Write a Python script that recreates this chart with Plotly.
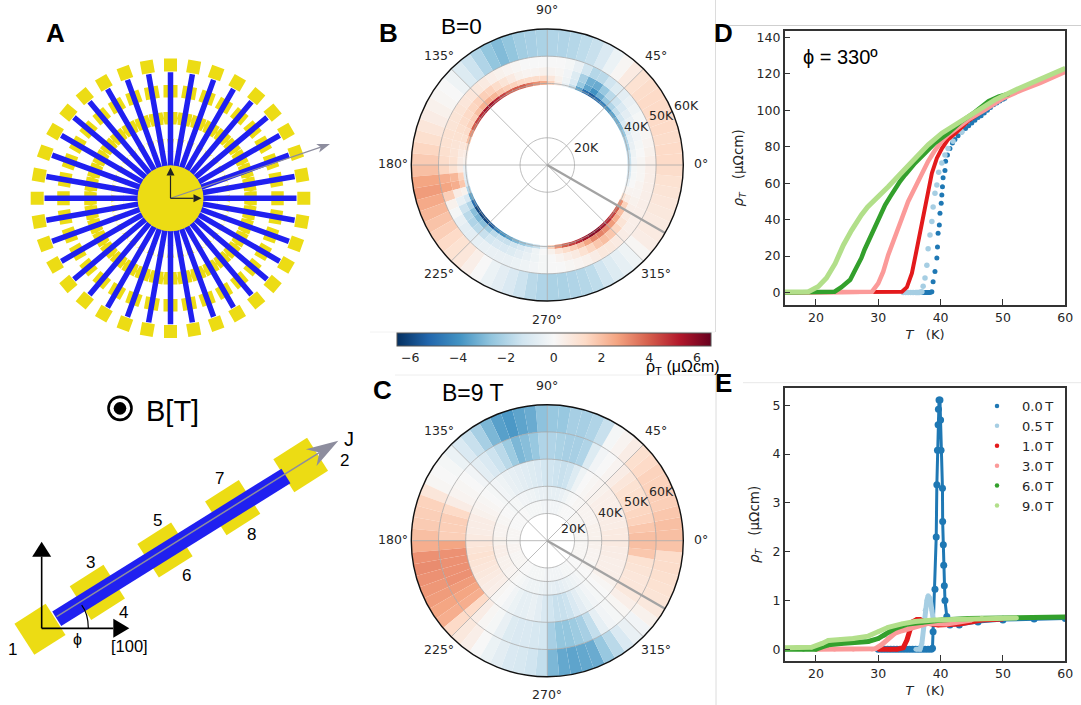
import math
import plotly.graph_objects as go

W, H = 1081, 705
BLUE, YEL, GREY = "#2020f0", "#ecdc14", "#8d8d9e"
SANS, DEJA = "Liberation Sans", "DejaVu Sans"

RDBU = ["#053061", "#2166ac", "#4393c3", "#92c5de", "#d1e5f0", "#f7f7f7",
        "#fddbc7", "#f4a582", "#d6604d", "#b2182b", "#67001f"]
CB_MIN, CB_MAX = -6.57, 6.57
CB_TICKS = [-6, -4, -2, 0, 2, 4, 6]
ANG_TICKS = [0, 45, 90, 135, 180, 225, 270, 315]
PHI = 330

# ---- Panel B (B=0): rho_T per 5 degree sector, one list per temperature band
B_EDGES = [39.5, 41, 43, 46, 50, 60]
B_RING = [-1.5,-1.5,-2,-2,-2.5,-3,-3.2,-3.5,-4,-4.5,-5,-5.5,-5,-3.5,-1.5,-.5,.5,1.5,2.5,3,3.5,4,4,4,
          4.5,5,5.5,5.5,5,4.5,4,3,2,1,.5,.3,-.5,-.8,-1,-2,-3.5,-5,-6,-6,-6,-5.5,-4.5,-4,
          -3.5,-3,-2.5,-2,-1.5,-.5,1.5,3,4,4.5,5,5.5,6,6,5.5,5,4.5,4,3,1,.2,-.5,-1,-1.2]
B_41 = [-.2,-.3,-.5,-.6,-.8,-1,-1.3,-1.6,-2,-2.5,-3.2,-4,-3.5,-2.5,-1,-.3,.3,.8,1.3,1.2,1.2,1.3,1.5,1.6,
        1.8,2.2,2.4,2.3,2,1.6,1.5,1.2,1,.8,.6,.5,.5,1.5,1.8,.3,-1,-2,-2.8,-3,-2.8,-2.4,-1.8,-1.5,
        -1.5,-1.3,-1,-.7,-.3,0,.3,.8,1.2,1.6,2,2.6,3.2,3.3,3.1,2.8,2.4,2,1.5,.5,.2,0,-.1,-.1]
B_43 = [.1,0,-.1,-.2,-.3,-.5,-.7,-1,-1.4,-1.8,-2.5,-3.3,-3.2,-2.2,-.9,-.2,.1,.2,.3,.2,.2,.3,.6,.9,
        1.2,1.5,1.6,1.5,1.4,1.3,1.2,1.1,1,.9,.9,1,1,2.2,2.4,.5,-.5,-1.4,-1.8,-2,-1.8,-1.5,-1.2,-1,
        -1,-.9,-.7,-.5,-.3,-.1,0,.2,.4,.6,1,1.4,1.8,2,1.8,1.4,.9,.6,.4,.3,.2,.2,.1,.1]
B_46 = [.4,.3,.2,.1,0,-.1,-.3,-.5,-.7,-.9,-1.3,-1.8,-1.9,-1.3,-.5,-.1,0,0,0,0,0,.1,.2,.3,
        .4,.6,.7,.8,.8,.9,.9,.9,1,1,1.1,1.2,1.4,2.4,2.6,1.6,.3,-.1,-.5,-.7,-.7,-.6,-.5,-.5,
        -.5,-.5,-.4,-.3,-.2,-.1,0,0,.1,.2,.3,.5,.7,.7,.6,.5,.4,.4,.4,.4,.4,.4,.4,.4]
B_50 = [1.3,1.3,1.2,1.3,1.3,1.3,1.3,1.2,1,.6,.1,-.4,-1,-1.5,-1.7,-1.9,-2,-2,-2.1,-2.2,-2.3,-2.6,-2.9,-2.6,
        -2,-1.4,-.9,-.3,0,.1,.3,.5,.8,1.1,1.4,1.7,2,2.6,2.8,2.5,2.2,1.9,1.6,1.3,1,.8,.4,0,
        -.4,-.7,-1,-1.4,-1.8,-2,-2.1,-2.1,-2,-1.9,-1.7,-1.3,-.9,-.6,-.3,.1,.5,.6,.6,.7,.8,.9,1,1.2]
B_BANDS = [B_RING, B_41, B_43, B_46, B_50]
B_RINGS = [20, 40, 50]

# ---- Panel C (B=9 T)
C_EDGES = [20, 25, 30, 40, 50, 60]
C_20 = [.1,.1,.1,.1,.1,.1,.1,.1,.1,0,0,0,0,-.1,-.2,-.2,-.2,-.2,-.2,-.2,-.1,-.1,-.1,-.1,
        -.1,0,0,0,0,0,0,0,.1,.1,.1,.1,.1,.2,.2,.2,.1,.1,.1,.1,.1,0,0,0,-.1,-.1,-.1,-.1,-.1,-.2,
        -.2,-.2,-.2,-.2,-.2,-.1,-.1,-.1,0,0,0,0,.1,.1,.1,.1,.1,.1]
C_25 = [.3,.3,.3,.3,.2,.2,.2,.2,.2,.1,.1,0,-.1,-.3,-.5,-.6,-.6,-.6,-.5,-.5,-.4,-.3,-.3,-.2,
        -.2,-.1,-.1,-.1,0,0,.1,.1,.2,.2,.2,.3,.3,.4,.4,.4,.3,.3,.3,.2,.2,.1,0,-.1,
        -.2,-.3,-.3,-.3,-.4,-.5,-.6,-.6,-.7,-.6,-.5,-.4,-.3,-.2,-.1,0,0,.1,.1,.2,.2,.2,.3,.3]
C_30 = [.6,.6,.5,.5,.5,.4,.4,.4,.3,.2,.1,0,-.3,-.9,-1.4,-1.5,-1.4,-1.3,-1.2,-1,-.9,-.8,-.7,-.6,
        -.5,-.3,-.2,-.1,0,.1,.2,.3,.5,.5,.5,.6,.8,.9,1,.9,.8,.7,.6,.5,.4,.1,0,-.2,
        -.4,-.6,-.6,-.5,-.7,-1,-1.3,-1.5,-1.5,-1.4,-1,-.7,-.4,-.2,-.1,0,.1,.3,.4,.4,.4,.5,.5,.6]
C_40 = [2,1.8,1.5,1.4,1.2,1.1,1,.8,.5,.2,0,-.2,-.9,-2,-2.2,-2.2,-2.1,-2,-2,-2.5,-2.8,-3,-2.4,-1.8,
        -1.4,-1,-.7,-.2,0,.1,.2,.5,1.3,1.6,1.6,1.6,2.6,3,3,3,3,2.8,2.6,2.4,1.3,.5,.1,-.1,
        -.5,-.9,-1,-1,-1.1,-1.2,-2.2,-2.6,-2.6,-2.4,-2.2,-1.6,-.6,-.2,-.1,.1,.4,.7,.8,.8,.9,1,1.8,2]
C_50 = [2,2,1.8,1.6,1.6,1.5,1.5,1.3,1.1,.5,.2,-.1,-1.5,-2,-2.2,-2.2,-2.5,-2.5,-2.7,-3.3,-3.5,-3.8,-3.6,-3,
        -2.2,-1.5,-1,-.4,-.1,0,.1,.8,1.5,1.6,1.7,2,2.4,3,3.1,3,2.9,2.8,2.6,2.4,1.3,.7,.4,0,
        -.4,-.7,-1,-1.1,-1.3,-1.6,-3,-3.4,-3.5,-3.4,-3.3,-2.5,-1.8,-1,-.5,-.2,.3,.7,.9,1,1.1,1.2,1.2,1.9]
C_BANDS = [C_20, C_25, C_30, C_40, C_50]
C_RINGS = [20, 25, 30, 40, 50]

# ---- Panels D and E
FIELDS = ["0.0\u2009T", "0.5\u2009T", "1.0\u2009T", "3.0\u2009T", "6.0\u2009T", "9.0\u2009T"]
COLORS = ["#1f78b4", "#a6cee3", "#e31a1c", "#fb9a99", "#33a02c", "#b2df8a"]

D_T0 = [36.4,36.7,37,37.2,37.4,37.6,37.8,38,38.2,38.4,38.6,38.8,39.1,39.4,39.5,39.6,39.8,39.9,40.1,40.2,40.3,40.4,40.7,40.8,41.1,41.5,
        41.9,42.3,42.8,43.4,44,44.5,45,45.5,46,46.5,47,47.5,48,48.5,49,49.5,50,50.3]
D_V0 = [0,0,0,0,0,0,0,0,0,.2,.5,6,11.5,19,25,32.5,37,43.5,49,53.5,58,63,67,72,75.5,79,
        82,84,86,88,90,91.5,93,94.5,96,97,98.5,100,101.5,103,104,105,106,106.5]
D_T1 = [34,34.4,34.8,35.2,35.6,36,36.2,36.4,36.6,36.8,37,37.2,37.5,37.8,38,38.3,38.6,38.8,39.1,39.4,39.7,40.2,40.7,41.2,42,43.4]
D_V1 = [0,0,0,0,0,0,0,0,.1,.3,.5,3.5,8,15,24,31.6,39,47,54.5,59,66,71,75.5,79,83,88]
D_T2 = [15,33.8,34.6,35.4,35.9,36.4,37,37.5,38,38.6,39.4,40.2,41.2,42.6,44.4,46,48,50]
D_V2 = [0,.5,3,10.6,19,28,39,48,57,65.5,73.7,79,84,88,94,98,102.5,106.5]
D_T3 = [15,29,30,30.8,31.6,32.7,33.8,34.8,35.9,37,38,39.1,40.2,41.2,42.6,44.5,47,50,53,56,60]
D_V3 = [0,.5,5,11.5,20.7,31.6,40.8,50,58,65.5,72,78,83,86.5,90,95,100,106.5,111,115,121]
D_T4 = [15,23,24.1,25.5,26.3,26.8,27.3,27.8,28.4,29.5,30.3,31.1,31.9,32.7,33.5,34.3,35.9,37.5,39.1,41.2,43.4,45.5,47.7,49.3,51]
D_V4 = [0,.5,3,7,12.4,15.5,19,23.5,28,37,42.5,48,52.5,57,61,64.5,71,76.4,82,87.4,94,99,105,107.5,109]
D_T5 = [15,18.8,20.4,21.7,23.1,24.4,25.7,26.5,27.3,28.3,29.5,30.5,31.6,33.8,35.9,38,40.2,42.3,44.4,46.6,48.7,51.9,55,60]
D_V5 = [.3,.5,3.3,8,16,26,34,38.7,42.6,47,50.8,54.5,58,66,73.7,81,87.4,92,96.5,101,105.7,111,115.7,123]
D_TS = [D_T0, D_T1, D_T2, D_T3, D_T4, D_T5]
D_VS = [D_V0, D_V1, D_V2, D_V3, D_V4, D_V5]
D_XTICKS = [20, 30, 40, 50, 60]
D_YTICKS = [0, 20, 40, 60, 80, 100, 120, 140]

E_T0 = [30,30.5,31,31.5,32,32.5,33,33.5,34,34.5,35,35.5,36,36.5,37,37.5,38,38.5,38.7,38.8,39.1,39.3,39.4,39.5,39.6,39.65,39.75,39.9,40,40.07,40.3,40.33,40.44,40.5,40.6,40.7,41,41.5,43,46,50,55,60]
E_V0 = [0,0,0,0,0,0,0,0,0,0,0,0,0,0,0,0,0,0,.02,.36,1.23,2.3,3.37,4.08,4.6,4.92,5.11,5.11,4.7,4.08,3.3,2.62,2.14,1.72,1.3,1,.67,.5,.5,.56,.6,.62,.63]
E_T1 = [36,36.7,37,37.2,37.5,37.8,38,38.3,38.6,38.8,39.5]
E_V1 = [0,0,.12,.4,.8,1,1.1,1.04,.8,.63,.55]
E_T2 = [30,32,33,34,34.6,35.1,35.6,36.2,36.7,37.2,38,39.6,41.2,43,46.6,50]
E_V2 = [0,0,0,.03,.19,.4,.57,.61,.61,.57,.53,.5,.5,.52,.6,.62]
E_T3 = [20,23,26,29,29.5,30.5,31.6,32.7,33.8,35.9,38,41,45]
E_V3 = [0,0,0,0,.01,.09,.22,.33,.38,.46,.53,.52,.6]
E_T4 = [15,18,20,21,22,24,26,28.4,30,31,32.7,34.8,37,40.2,44.4,50,55,60]
E_V4 = [0,0,0,.05,.09,.12,.14,.16,.22,.29,.43,.52,.55,.6,.63,.64,.65,.66]
E_T5 = [15,17,19.3,21,22,24,26,28.4,30,31.6,33.8,35.9,39,42.3,46.6,52.2]
E_V5 = [.03,.03,.04,.12,.18,.2,.22,.27,.36,.45,.52,.57,.6,.61,.64,.64]
E_TS = [E_T0, E_T1, E_T2, E_T3, E_T4, E_T5]
E_VS = [E_V0, E_V1, E_V2, E_V3, E_V4, E_V5]
E_YTICKS = [0, 1, 2, 3, 4, 5]

# ---- Layout helpers (pixel positions on the page)
def px(x): return x / W
def py(y): return 1 - y / H
def dom_x(a, b): return [a / W, b / W]
def dom_y(top, bot): return [1 - bot / H, 1 - top / H]

fig = go.Figure()
shapes, notes = [], []

def path(polys, color):
    d = ""
    for p in polys:
        d += "M" + "L".join(f"{px(x):.5f},{py(y):.5f}" for x, y in p) + "Z"
    shapes.append(dict(type="path", path=d, xref="paper", yref="paper",
                       fillcolor=color, line=dict(width=0)))

def rect(cx, cy, ang, l, w):
    c, s = math.cos(math.radians(ang)), -math.sin(math.radians(ang))
    return [(cx + a * l / 2 * c - b * w / 2 * s, cy + a * l / 2 * s + b * w / 2 * c)
            for a, b in ((-1, -1), (1, -1), (1, 1), (-1, 1))]

def line(x0, y0, x1, y1, color, width):
    shapes.append(dict(type="line", xref="paper", yref="paper", x0=px(x0), y0=py(y0),
                       x1=px(x1), y1=py(y1), line=dict(color=color, width=width)))

def circle(cx, cy, r, fill="rgba(0,0,0,0)", lc="rgba(0,0,0,0)", lw=0):
    shapes.append(dict(type="circle", xref="paper", yref="paper", x0=px(cx - r), x1=px(cx + r),
                       y0=py(cy - r), y1=py(cy + r), fillcolor=fill, line=dict(color=lc, width=lw)))

def arrow(x0, y0, x1, y1, color, width, hl, hw, notch=0.0):
    a = math.atan2(y1 - y0, x1 - x0)
    ux, uy, vx, vy = math.cos(a), math.sin(a), -math.sin(a), math.cos(a)
    bx, by = x1 - hl * ux, y1 - hl * uy
    line(x0, y0, bx + notch * hl * ux, by + notch * hl * uy, color, width)
    path([[(x1, y1), (bx + hw / 2 * vx, by + hw / 2 * vy),
           (bx + notch * hl * ux, by + notch * hl * uy), (bx - hw / 2 * vx, by - hw / 2 * vy)]], color)

def note(x, y, text, size, font=SANS, color="#000", bold=False):
    if bold:
        text = f"<b>{text}</b>"
    notes.append(dict(x=px(x), y=py(y), xref="paper", yref="paper", text=text, showarrow=False,
                      xanchor="center", yanchor="middle", font=dict(family=font, size=size, color=color)))

# ---- Panel A schematic
CX, CY = 170.5, 198.3
ANGS = list(range(0, 360, 10))
yellow = []
for a in ANGS:
    c, s = math.cos(math.radians(a)), math.sin(math.radians(a))
    yellow.append(rect(CX + 133.3 * c, CY - 133.3 * s, a, 13, 13))
    for r in (53, 80, 107):
        yellow.append(rect(CX + r * c, CY - r * s, a, 12.5, 14))
path(yellow, YEL)
blue = []
for a in ANGS:
    c, s = math.cos(math.radians(a)), math.sin(math.radians(a))
    blue.append(rect(CX + 79 * c, CY - 79 * s, a, 94, 5.5))
path(blue, BLUE)
circle(CX, CY, 33, fill=YEL)
arrow(CX, CY, 330, 144, GREY, 1.2, 13, 9, 0.25)
arrow(CX, CY, CX, 167.5, "#222", 1.2, 8, 8)
arrow(CX, CY, 201.5, CY, "#222", 1.2, 8, 8)

# ---- Device schematic
def z(x, y): return (x / 3, 380 + y / 3)
for c_, l_, w_ in (((120, 748), 37, 37), ((902, 255), 40, 39), ((292, 637), 40, 40),
                   ((495, 510), 40, 40), ((698, 383), 40, 40)):
    path([rect(*z(*c_), 32.5, l_, w_)], YEL)
path([rect(*z(514, 502), 31.9, 270, 17)], BLUE)
arrow(*z(170, 710), *z(1015, 182), GREY, 1.5, 32, 20, 0.3)
ox, oy = z(125, 745)
arrow(ox, oy, *z(125, 485), "#000", 1.6, 15, 19)
arrow(ox, oy, *z(388, 745), "#000", 1.6, 16, 19)
ax0, ay0 = z(265, 745); ac = z(265, 700); ax1, ay1 = z(245, 675)
shapes.append(dict(type="path", xref="paper", yref="paper",
                   path=f"M{px(ax0):.5f},{py(ay0):.5f}Q{px(ac[0]):.5f},{py(ac[1]):.5f} {px(ax1):.5f},{py(ay1):.5f}",
                   line=dict(color="#000", width=1.2)))
for txt, pos, size in (("1", (38, 808), 17), ("2", (1033, 242), 17), ("3", (272, 547), 17),
                       ("4", (370, 697), 17), ("5", (473, 422), 17), ("6", (558, 587), 17),
                       ("7", (658, 295), 17), ("8", (755, 463), 17), ("J", (1047, 177), 20),
                       ("[100]", (388, 798), 16.5), ("ϕ", (232, 778), 16), ("B[T]", (518, 92), 29)):
    note(*z(*pos), txt, size)
bc = z(360, 85)
circle(bc[0], bc[1], 11.5, lc="#000", lw=2.6)
circle(bc[0], bc[1], 6.3, fill="#000")

# ---- Polar panels
ANG_LABEL_DX = [154, 108.7, 0, -108.7, -154, -108.7, 0, 108.7]
ANG_LABEL_DY = [-1.3, -110, -155.5, -110, -1.3, 108.3, 154, 108.3]

def polar_panel(name, edges, bands, rings, cy):
    for i, row in enumerate(bands):
        step = 360 / len(row)
        fig.add_trace(go.Barpolar(
            subplot=name, theta=[step * (k + .5) for k in range(len(row))],
            r=[edges[i + 1] - edges[i]] * len(row), base=[edges[i]] * len(row),
            width=[step] * len(row),
            marker=dict(color=row, coloraxis="coloraxis", line=dict(width=0)),
            hoverinfo="skip", showlegend=False))
    for T in rings:
        fig.add_trace(go.Scatterpolar(subplot=name, theta=list(range(0, 361, 3)), r=[T] * 121, mode="lines",
                                      line=dict(color="rgba(165,165,165,.75)", width=1),
                                      hoverinfo="skip", showlegend=False))
    for a in ANG_TICKS:
        fig.add_trace(go.Scatterpolar(subplot=name, theta=[a, a], r=[10, 60], mode="lines",
                                      line=dict(color="rgba(165,165,165,.75)", width=1),
                                      hoverinfo="skip", showlegend=False))
    fig.add_trace(go.Scatterpolar(subplot=name, theta=[PHI, PHI], r=[10, 60], mode="lines",
                                  line=dict(color="#a3a3a3", width=2.2),
                                  hoverinfo="skip", showlegend=False))
    for a, dx, dy in zip(ANG_TICKS, ANG_LABEL_DX, ANG_LABEL_DY):
        note(547.3 + dx, cy + dy, f"{a}°", 12.5, DEJA, "#262626")
    return dict(domain=dict(x=dom_x(547.3 - 136, 547.3 + 136), y=dom_y(cy - 136, cy + 136)),
                bgcolor="rgba(0,0,0,0)", bargap=0,
                radialaxis=dict(range=[10, 60], visible=False),
                angularaxis=dict(tickmode="array", tickvals=ANG_TICKS, showticklabels=False,
                                 ticks="", showgrid=False, linecolor="#111", linewidth=1.4))

polar1 = polar_panel("polar", B_EDGES, B_BANDS, B_RINGS, 165)
polar2 = polar_panel("polar2", C_EDGES, C_BANDS, C_RINGS, 540.7)

for txt, zx, zy in (("20K", 678, 442), ("40K", 830, 378), ("50K", 905, 347), ("60K", 980, 315)):
    note(360 + zx / 3, zy / 3, txt, 12.5, DEJA, "#262626")
for txt, zx, zy in (("20K", 640, 460), ("40K", 752, 412), ("50K", 830, 380), ("60K", 905, 350)):
    note(360 + zx / 3, 375 + zy / 3, txt, 12.5, DEJA, "#262626")

# ---- Curves
for i in range(6):
    if i < 2:
        fig.add_trace(go.Scatter(x=D_TS[i], y=D_VS[i], mode="markers", xaxis="x", yaxis="y",
                                 marker=dict(color=COLORS[i], size=5 if i == 0 else 5.5, line=dict(width=0)),
                                 hoverinfo="skip", showlegend=False))
    else:
        fig.add_trace(go.Scatter(x=D_TS[i], y=D_VS[i], mode="lines", xaxis="x", yaxis="y",
                                 line=dict(color=COLORS[i], width=4 if i == 2 else (4.5 if i < 5 else 5)),
                                 hoverinfo="skip", showlegend=False))
for i in range(6):
    fig.add_trace(go.Scatter(x=E_TS[i], y=E_VS[i], mode="lines", xaxis="x2", yaxis="y2",
                             line=dict(color=COLORS[i], width=3 if i == 0 else 5),
                             hoverinfo="skip", showlegend=False))
    if i == 0:
        fig.add_trace(go.Scatter(x=E_TS[i], y=E_VS[i], mode="markers", xaxis="x2", yaxis="y2",
                                 marker=dict(color=COLORS[i], size=7, line=dict(width=0)),
                                 hoverinfo="skip", showlegend=False))
    fig.add_trace(go.Scatter(x=E_TS[i], y=E_VS[i], mode="markers", name=FIELDS[i], xaxis="x2", yaxis="y2",
                             marker=dict(color=COLORS[i], size=4.5, line=dict(width=0)),
                             hoverinfo="skip", showlegend=True))

def axis(**kw):
    return dict(showgrid=False, zeroline=False, showline=True, mirror=True, linecolor="#333", linewidth=1.5,
                ticks="inside", ticklen=6, tickwidth=1, tickcolor="#333", automargin=False,
                tickfont=dict(family=DEJA, size=12.5, color="#262626"), **kw)

def xtitle(): return dict(text="<i>T</i>   (K)", font=dict(family=DEJA, size=13, color="#262626"), standoff=6)
def ytitle(): return dict(text="<i>ρ<sub>T</sub></i>   (μΩcm)", font=dict(family=DEJA, size=13.5, color="#262626"), standoff=10)

# ---- Panel letters and texts
note(55, 33, "A", 26, bold=True)
note(388, 33, "B", 26, bold=True)
note(382, 390, "C", 26, bold=True)
note(723, 33, "D", 26, bold=True)
note(723, 383, "E", 26, bold=True)
note(461, 26, "B=0", 22.5)
note(473, 393, "B=9 T", 23)
note(840, 57, "ϕ = 330º", 20)
note(683, 367, "ρ<sub>T</sub> (μΩcm)", 16)

# ---- Page rules
line(715.5, 0, 715.5, 332, "#dcdcdc", 1)
line(716, 375, 716, 705, "#dcdcdc", 1)
line(725, 25.5, 1081, 25.5, "#cfcfcf", 1)
line(743, 382.7, 1081, 382.7, "#e8e8e8", 1)
line(370, 332, 715, 332, "#f2f2f2", 1)
line(395, 375, 715, 375, "#eeeeee", 1)

fig.update_layout(
    width=W, height=H, margin=dict(l=0, r=0, t=0, b=0), template="none",
    paper_bgcolor="white", plot_bgcolor="white",
    polar=polar1, polar2=polar2,
    coloraxis=dict(cmin=CB_MIN, cmax=CB_MAX,
                   colorscale=[[k / (len(RDBU) - 1), c] for k, c in enumerate(RDBU)],
                   colorbar=dict(orientation="h", lenmode="pixels", len=314, thicknessmode="pixels", thickness=13.3,
                                 x=px(553.7), xanchor="center", y=py(332.7), yanchor="top", xpad=0, ypad=0,
                                 tickmode="array", tickvals=CB_TICKS, ticktext=[str(t).replace("-", "−") for t in CB_TICKS],
                                 ticks="", outlinecolor="#555", outlinewidth=1, borderwidth=0,
                                 tickfont=dict(family=DEJA, size=12.5, color="#262626"))),
    xaxis=axis(domain=dom_x(784.7, 1065.3), range=[15, 60], tickvals=D_XTICKS, anchor="y", title=xtitle()),
    yaxis=axis(domain=dom_y(30.7, 305), range=[-6.8, 143.6], tickvals=D_YTICKS, anchor="x", title=ytitle()),
    xaxis2=axis(domain=dom_x(784.7, 1065.3), range=[15, 60], tickvals=D_XTICKS, anchor="y2", title=xtitle()),
    yaxis2=axis(domain=dom_y(387.7, 661), range=[-.24, 5.36], tickvals=E_YTICKS, anchor="x2", title=ytitle()),
    legend=dict(x=px(972), y=py(391), xanchor="left", yanchor="top", bgcolor="rgba(0,0,0,0)", itemwidth=40,
                font=dict(family=DEJA, size=13, color="#262626"), itemsizing="trace", tracegroupgap=0),
    shapes=shapes, annotations=notes,
)
fig.write_html("out.html", post_script="document.body.style.margin='0';", config={"displayModeBar": False})
